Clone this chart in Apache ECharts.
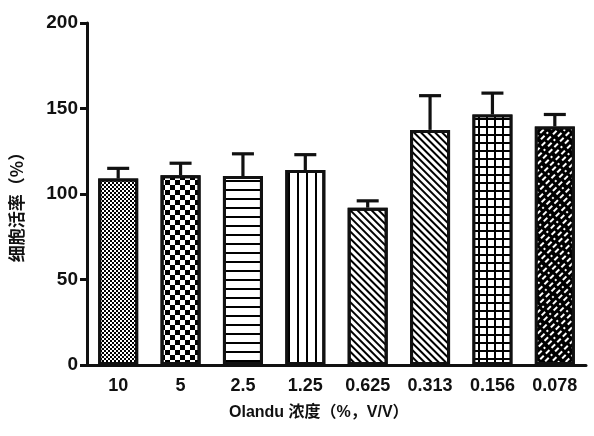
<!DOCTYPE html>
<html>
<head>
<meta charset="utf-8">
<script src="https://cdn.jsdelivr.net/npm/echarts@6/dist/echarts.min.js"></script>
<style>html,body{margin:0;padding:0;background:#fff;}#c{width:594px;height:436px;}</style>
</head>
<body>
<div id="c"></div>
<script>
const categories = ['10', '5', '2.5', '1.25', '0.625', '0.313', '0.156', '0.078'];
const viability = [109, 111, 110.5, 114, 92, 137.5, 146.5, 139.5];
const errors = [6, 7, 13, 9, 4, 20, 12.5, 7];
const yTicks = [0, 50, 100, 150, 200];

const decals = [
  { symbol: 'rect', symbolSize: 1, color: '#000', backgroundColor: 'transparent', dashArrayX: [[2, 2], [0, 2, 2, 0]], dashArrayY: [2, 0] },
  { symbol: 'rect', symbolSize: 1, color: '#000', backgroundColor: 'transparent', dashArrayX: [[5, 5], [0, 5, 5, 0]], dashArrayY: [5, 0] },
  { symbol: 'rect', symbolSize: 1, color: '#000', backgroundColor: 'transparent', dashArrayX: [1, 0], dashArrayY: [1.6, 7] },
  { symbol: 'rect', symbolSize: 1, color: '#000', backgroundColor: 'transparent', dashArrayX: [1.6, 7], dashArrayY: [1, 0] },
  { symbol: 'rect', symbolSize: 1, color: '#000', backgroundColor: 'transparent', dashArrayX: [1, 0], dashArrayY: [2, 3], rotation: Math.PI / 4 },
  { symbol: 'rect', symbolSize: 1, color: '#000', backgroundColor: 'transparent', dashArrayX: [1, 0], dashArrayY: [2, 2.4], rotation: Math.PI / 4 },
  { symbol: 'rect', symbolSize: 1, color: '#fff', backgroundColor: '#000', dashArrayX: [5.5, 1.8], dashArrayY: [5.5, 1.8] },
  { symbol: 'rect', symbolSize: 1, color: '#fff', backgroundColor: '#000', dashArrayX: [[5, 2.5], [0, 3.7, 5, 2.5, 1.3, 0]], dashArrayY: [2, 2.4], rotation: -Math.PI / 4 }
];

const chart = echarts.init(document.getElementById('c'), null, { renderer: 'canvas' });
const font = '"Liberation Sans", Arial, "Noto Sans CJK SC", sans-serif';

chart.setOption({
  animation: false,
  backgroundColor: '#fff',
  grid: { left: 87, right: 8, top: 23, bottom: 71, containLabel: false, outerBoundsMode: 'none' },
  title: {
    text: 'Olandu 浓度（%，V/V）',
    left: 224, top: 400,
    textStyle: { fontFamily: font, fontWeight: 'bold', fontSize: 16, color: '#111' }
  },
  xAxis: {
    type: 'category',
    data: categories,
    axisLine: { lineStyle: { color: '#111', width: 3 } },
    axisTick: { alignWithLabel: true, length: 6, lineStyle: { color: '#111', width: 3 } },
    axisLabel: { color: '#111', fontFamily: font, fontWeight: 'bold', fontSize: 18, margin: 12 },
    splitLine: { show: false }
  },
  yAxis: {
    type: 'value',
    min: yTicks[0], max: yTicks[yTicks.length - 1], interval: 50,
    name: '细胞活率（%）',
    nameLocation: 'middle',
    nameGap: 62,
    nameTextStyle: { fontFamily: '"Noto Sans CJK SC", sans-serif', fontWeight: 'bold', fontSize: 17, color: '#111', padding: [0, 18, 0, 0] },
    axisLine: { show: true, lineStyle: { color: '#111', width: 3 } },
    axisTick: { show: true, length: 7, lineStyle: { color: '#111', width: 3 } },
    axisLabel: { color: '#111', fontFamily: font, fontWeight: 'bold', fontSize: 19, margin: 9 },
    splitLine: { show: false }
  },
  series: [
    {
      type: 'bar',
      barWidth: 40,
      data: viability.map((v, i) => ({
        value: v,
        itemStyle: { color: i >= 6 ? '#000' : '#fff', borderColor: '#111', borderWidth: 3, decal: decals[i] }
      })),
      z: 2
    },
    {
      type: 'custom',
      z: 3,
      data: viability.map((v, i) => [i, v, errors[i]]),
      encode: { x: 0, y: 1 },
      renderItem: function (params, api) {
        const i = api.value(0);
        const base = api.coord([i, api.value(1)]);
        const top = api.coord([i, api.value(1) + api.value(2)]);
        const half = 11;
        const style = { stroke: '#111', lineWidth: 3.2, fill: null };
        return {
          type: 'group',
          children: [
            { type: 'line', shape: { x1: base[0], y1: base[1], x2: top[0], y2: top[1] }, style: style },
            { type: 'line', shape: { x1: top[0] - half, y1: top[1], x2: top[0] + half, y2: top[1] }, style: style }
          ]
        };
      }
    }
  ]
});
</script>
</body>
</html>
